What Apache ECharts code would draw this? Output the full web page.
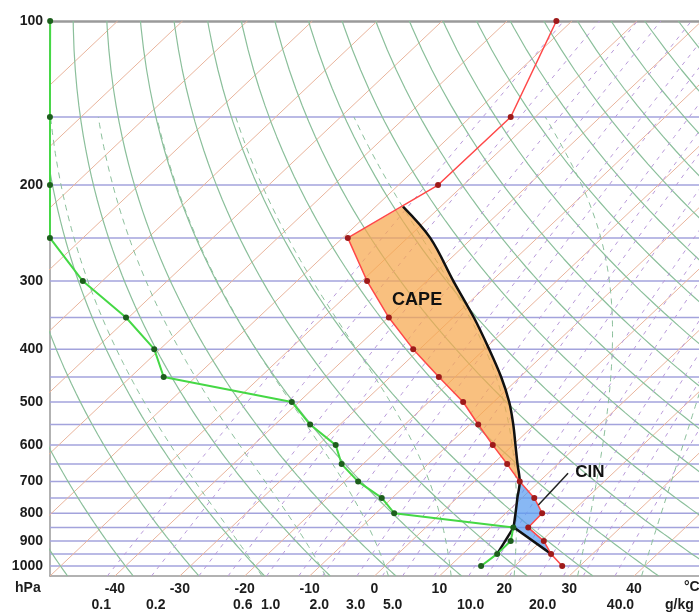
<!DOCTYPE html>
<html>
<head>
<meta charset="utf-8">
<script src="https://cdn.jsdelivr.net/npm/echarts@6/dist/echarts.min.js"></script>
<style>
  html, body { margin: 0; padding: 0; background: #fff; }
  #chart { width: 699px; height: 612px; }
</style>
</head>
<body>
<div id="chart"></div>
<script>
// sounding levels (hPa) and the values (degC)
var pressure    = [100, 150, 200, 250, 300, 350, 400, 450, 500, 550, 600, 650, 700, 750, 800, 850, 900, 950, 1000];
var temperature = [-62.4, -53.8, -53.9, -59.2, -49.2, -39.9, -31.0, -22.5, -14.7, -8.7, -3.1, 2.2, 7.0, 11.9, 15.6, 15.8, 20.4, 23.6, 27.3];
var dewpoint    = [-140.4, -124.8, -113.7, -105.1, -93.0, -80.4, -70.9, -64.9, -41.1, -34.6, -27.3, -23.3, -17.9, -11.6, -7.2, 13.5, 15.3, 15.3, 14.8];

// lifted parcel: moist ascent from the LCL up to the EL
var parcelP = [219, 250, 300, 350, 400, 450, 500, 550, 600, 650, 700, 750, 800, 849];
var parcelT = [-55.8, -46.5, -35.9, -26.8, -19.3, -12.9, -7.6, -3.3, 0.4, 3.8, 7.0, 9.3, 11.5, 13.5];
var parcelStartP = 950;

// background lines of the diagram
var isobarLevels = [150, 200, 250, 300, 350, 400, 450, 500, 550, 600, 650, 700, 750, 800, 850, 900, 950, 1000];
var isotherms = [-150, -140, -130, -120, -110, -100, -90, -80, -70, -60, -50, -40, -30, -20, -10, 0, 10, 20, 30, 40, 50];
var dryAdiabats = [-50, -40, -30, -20, -10, 0, 10, 20, 30, 40, 50, 60, 70, 80, 90, 100, 110, 120, 130, 140, 150, 160, 170, 180];
var moistAdiabats = [-20, -10, 0, 10, 20, 30, 40];
var mixingRatios = [0.1, 0.2, 0.4, 0.6, 1, 1.5, 2, 3, 4, 5, 7, 10, 12, 15, 20, 25, 30, 40];

// tick labels
var yTicks = [100, 200, 300, 400, 500, 600, 700, 800, 900, 1000];
var tTicks = [-40, -30, -20, -10, 0, 10, 20, 30, 40];
var mixLabels = ['0.1', '0.2', '0.6', '1.0', '2.0', '3.0', '5.0', '10.0', '20.0', '40.0'];
var mixLabelPos = [-42.1, -33.7, -20.3, -16.0, -8.5, -2.9, 2.8, 14.8, 25.9, 37.9];

// annotations [T, p]
var capeLabel = [-38.4, 325];
var cinLabel = [16.3, 673];
var cinLeader = [[13.1, 676], [13.7, 773]];

var PB = 1043;
var SKEW = 88.8;
var LOGPB = Math.log10(PB);
var FONT = 'Liberation Sans, Arial, sans-serif';

function skew(t, p) {
    return [t + SKEW * (LOGPB - Math.log10(p)), Math.log10(p)];
}

function bgLine(data, color, width, type) {
    return {
        type: 'line', data: data, symbol: 'none', silent: true, z: 1,
        animation: false,
        lineStyle: { color: color, width: width, type: type || 'solid' }
    };
}

function levels(top, bottom, step) {
    var out = [];
    for (var p = bottom; p > top; p -= step) out.push(p);
    out.push(top);
    return out;
}

function moistLine(twC) {
    var Rd = 287.04, cp = 1005.7, L = 2.501e6, eps = 0.622;
    function rs(T, p) {
        var es = 6.112 * Math.exp(17.67 * (T - 273.15) / (T - 29.65));
        return eps * es / (p - es);
    }
    function dTdp(T, p) {
        var r = rs(T, p);
        return (Rd * T + L * r) / (p * (cp + L * L * r * eps / (Rd * T * T)));
    }
    var pts = [];
    var T = twC + 273.15, p = 1000, h = 5;
    // down to the bottom of the chart
    var Tb = T, pb = p;
    while (pb < PB) {
        var k1 = dTdp(Tb, pb);
        var k2 = dTdp(Tb + k1 * h, pb + h);
        Tb += (k1 + k2) / 2 * h; pb += h;
    }
    pts.push(skew(Tb - 273.15, pb));
    pts.push(skew(T - 273.15, p));
    while (p > 150) {
        var a1 = dTdp(T, p);
        var a2 = dTdp(T - a1 * h, p - h);
        T -= (a1 + a2) / 2 * h; p -= h;
        pts.push(skew(T - 273.15, p));
    }
    return pts;
}

var series = [];

isobarLevels.forEach(function (p) {
    series.push(bgLine([[-50, Math.log10(p)], [50, Math.log10(p)]], '#a3a3dc', 1.5));
});
isotherms.forEach(function (t) {
    series.push(bgLine([skew(t, PB), skew(t, 100)], '#e9b49c', 1));
});
dryAdiabats.forEach(function (th) {
    var data = levels(100, PB, 10).map(function (p) {
        return skew((th + 273.15) * Math.pow(p / 1000, 0.2857) - 273.15, p);
    });
    series.push(bgLine(data, '#8bbf9b', 1.2));
});
moistAdiabats.forEach(function (tw) {
    series.push(bgLine(moistLine(tw), '#8bbf9b', 1, [6, 5]));
});
mixingRatios.forEach(function (w) {
    var data = levels(100, PB, 20).map(function (p) {
        var e = w * p / (622 + w);
        var x = Math.log(e / 6.112);
        return skew(243.5 * x / (17.67 - x), p);
    });
    series.push(bgLine(data, '#b99ada', 1, [4, 5]));
});

// CAPE and CIN areas
var i700 = pressure.indexOf(700), i250 = pressure.indexOf(250), i950 = pressure.indexOf(parcelStartP);
var j700 = parcelP.indexOf(700);
var capePoly = [];
for (var i = i700; i >= i250; i--) capePoly.push(skew(temperature[i], pressure[i]));
for (var j = 0; j <= j700; j++) capePoly.push(skew(parcelT[j], parcelP[j]));
var cinPoly = [];
for (var i2 = i700; i2 <= i950; i2++) cinPoly.push(skew(temperature[i2], pressure[i2]));
for (var j2 = parcelP.length - 1; j2 >= j700; j2--) cinPoly.push(skew(parcelT[j2], parcelP[j2]));

function area(poly, color) {
    return {
        type: 'custom', silent: true, z: 2, animation: false,
        data: [[0, 2.5]],
        renderItem: function (params, api) {
            return {
                type: 'polygon',
                shape: { points: poly.map(function (pt) { return api.coord(pt); }), smooth: 0 },
                style: { fill: color, opacity: 0.72 }
            };
        }
    };
}
series.push(area(capePoly, '#f7a84e'));
series.push(area(cinPoly, '#5a9cf0'));

// parcel path
var lcl = skew(parcelT[parcelT.length - 1], parcelP[parcelP.length - 1]);
var parcelStyle = { color: '#111', width: 2.5 };
series.push({
    type: 'line', symbol: 'none', silent: true, z: 4, animation: false, smooth: 0.35,
    data: parcelP.map(function (p, k) { return skew(parcelT[k], p); }),
    lineStyle: parcelStyle
});
series.push({
    type: 'line', symbol: 'none', silent: true, z: 4, animation: false,
    data: [skew(temperature[i950], parcelStartP), lcl], lineStyle: parcelStyle
});
series.push({
    type: 'line', symbol: 'none', silent: true, z: 4, animation: false,
    data: [skew(dewpoint[i950], parcelStartP), lcl], lineStyle: parcelStyle
});

// sounding
series.push({
    type: 'line', z: 5, clip: false, animation: false,
    data: pressure.map(function (p, k) { return skew(dewpoint[k], p); }),
    symbol: 'circle', symbolSize: 6,
    itemStyle: { color: '#1d5f1d' },
    lineStyle: { color: '#45d845', width: 2 }
});
series.push({
    type: 'line', z: 5, clip: false, animation: false,
    data: pressure.map(function (p, k) { return skew(temperature[k], p); }),
    symbol: 'circle', symbolSize: 6,
    itemStyle: { color: '#9e1a1a' },
    lineStyle: { color: '#ff4848', width: 1.5 }
});

// labels
function textMark(pt, text, size) {
    return {
        type: 'custom', z: 6, silent: true, animation: false,
        data: [skew(pt[0], pt[1])],
        renderItem: function (params, api) {
            var c = api.coord([api.value(0), api.value(1)]);
            return {
                type: 'text', x: c[0], y: c[1],
                style: {
                    text: text, fill: '#111', align: 'center', verticalAlign: 'middle',
                    font: 'bold ' + size + 'px ' + FONT
                }
            };
        }
    };
}
series.push(textMark(capeLabel, 'CAPE', 18));
series.push(textMark(cinLabel, 'CIN', 17));
series.push({
    type: 'line', symbol: 'none', silent: true, z: 6, animation: false,
    data: cinLeader.map(function (pt) { return skew(pt[0], pt[1]); }),
    lineStyle: { color: '#222', width: 1.5 }
});

var labelStyle = { fontFamily: FONT, fontWeight: 'bold', fontSize: 14, color: '#1c1c1c' };

var chart = echarts.init(document.getElementById('chart'));
chart.setOption({
    animation: false,
    backgroundColor: '#fff',
    grid: { left: 50, right: 0, top: 21, bottom: 34 },
    xAxis: [{
        type: 'value', min: -50, max: 50, position: 'bottom',
        axisLine: { onZero: false, lineStyle: { color: '#999', width: 1.5 } },
        axisTick: { show: false },
        splitLine: { show: false },
        axisLabel: Object.assign({ customValues: tTicks, margin: 6 }, labelStyle)
    }, {
        type: 'value', min: -50, max: 50, position: 'bottom', offset: 16,
        axisLine: { show: false }, axisTick: { show: false }, splitLine: { show: false },
        axisLabel: Object.assign({
            customValues: mixLabelPos, margin: 6,
            formatter: function (v) {
                var k = mixLabelPos.indexOf(Math.round(v * 10) / 10);
                return k >= 0 ? mixLabels[k] : '';
            }
        }, labelStyle)
    }, {
        type: 'value', min: -50, max: 50, position: 'top',
        axisLine: { onZero: false, lineStyle: { color: '#9a9a9a', width: 2.5 } },
        axisTick: { show: false }, axisLabel: { show: false }, splitLine: { show: false }
    }],
    yAxis: {
        type: 'value', min: 2, max: LOGPB, inverse: true,
        axisLine: { show: true, onZero: false, lineStyle: { color: '#999', width: 1.5 } },
        axisTick: { show: false },
        splitLine: { show: false },
        axisLabel: Object.assign({
            customValues: yTicks.map(function (p) { return Math.log10(p); }),
            margin: 7,
            formatter: function (v) { return String(Math.round(Math.pow(10, v))); }
        }, labelStyle)
    },
    graphic: [
        { type: 'text', left: 15, top: 581, style: { text: 'hPa', font: 'bold 14px ' + FONT, fill: '#1c1c1c' } },
        { type: 'text', left: 684, top: 580, style: { text: '\u00b0C', font: 'bold 14px ' + FONT, fill: '#1c1c1c' } },
        { type: 'text', left: 665, top: 598, style: { text: 'g/kg', font: 'bold 14px ' + FONT, fill: '#1c1c1c' } }
    ],
    series: series
});
</script>
</body>
</html>
